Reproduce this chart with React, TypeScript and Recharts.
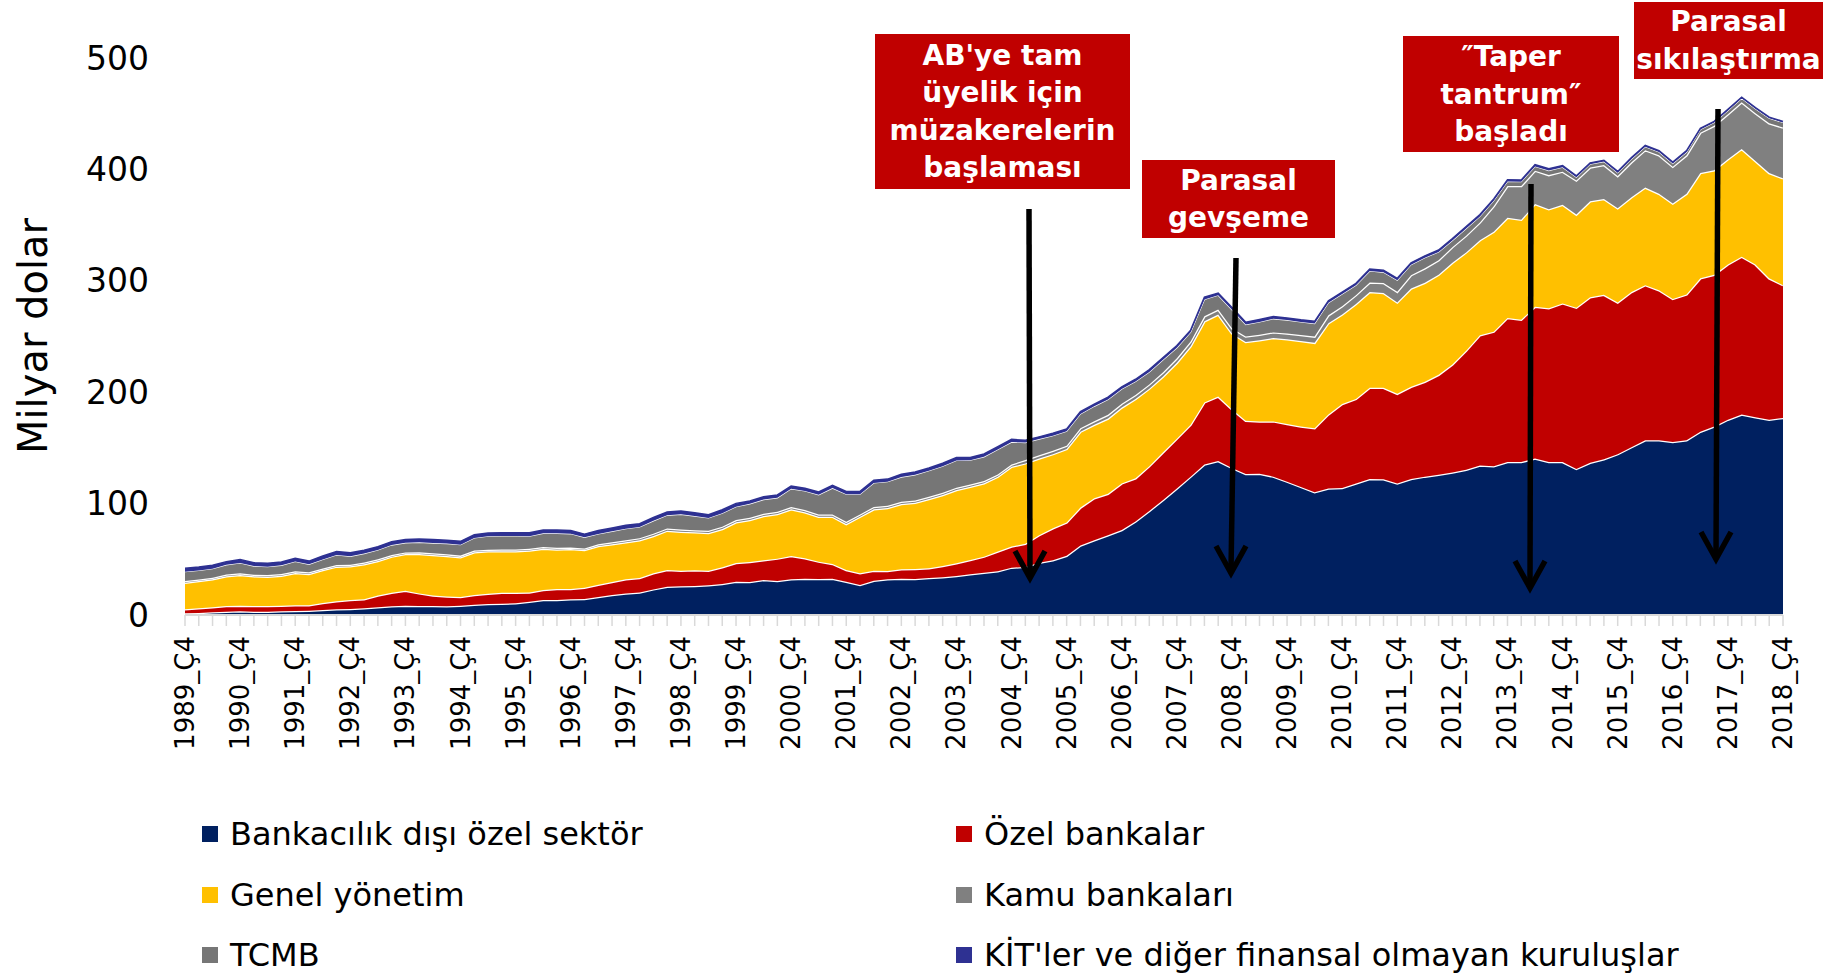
import React from 'react';
import { AreaChart, Area, XAxis, YAxis } from 'recharts';

// Quarter labels: 1989_Ç4 ... 2018_Ç4 (117 quarters)
const firstYear = 1989;
const quarterCount = 117;
const categories: string[] = [];
for (let i = 0; i < quarterCount; i++) {
  const year = firstYear + Math.floor((i + 3) / 4);
  const q = ((i + 3) % 4) + 1;
  categories.push(`${year}_Ç${q}`);
}

const yTicks = [0, 100, 200, 300, 400, 500];

// Bankacılık dışı özel sektör
const nonBankPrivate = [
  1.5, 1.8, 2.4, 3.0, 3.3, 3.0, 3.0, 3.3, 3.6, 3.9, 4.5, 5.1, 5.4, 6.0, 6.9, 7.8, 8.4, 8.1, 8.1, 7.8, 8.4, 9.3, 9.9, 10.2, 10.5, 11.8, 13.5,
  13.5, 14.1, 14.4, 16.2, 18.0, 19.4, 20.3, 23.0, 25.4, 25.7, 26.0, 26.6, 27.8, 29.9, 29.6, 31.4, 30.5, 32.0, 32.6, 32.3, 32.6, 29.9, 26.9, 30.8, 32.0, 32.6, 32.3, 33.2, 33.8, 35.0, 36.5, 38.0, 39.2, 42.5,
  43.2, 46.9, 49.1, 53.1, 62.4, 67.0, 71.6, 76.3, 84.0, 93.4, 103.2, 113.5, 124.2, 135.1, 138.2, 132.0, 126.5, 126.8, 124.2, 119.7, 115.0, 110.3, 113.5, 114.1, 118.1, 122.1, 121.8, 118.1, 122.1, 124.2, 125.9, 128.0, 130.4, 134.2, 133.6, 137.3, 137.3, 140.4, 137.3, 137.3, 131.1, 136.6, 139.8, 144.4, 150.6, 156.8, 156.8, 155.2, 156.8, 164.5, 169.1, 175.3, 180.0, 177.6, 175.3, 176.9,
];

// Özel bankalar
const privateBanks = [
  3.6, 4.2, 4.5, 5.1, 5.1, 5.1, 5.1, 5.1, 5.1, 4.8, 6.3, 7.2, 8.1, 8.1, 10.5, 12.2, 13.4, 11.3, 9.3, 8.7, 7.8, 8.7, 9.2, 9.8, 9.5, 8.5, 8.9,
  9.8, 9.2, 10.1, 11.0, 11.6, 12.6, 12.9, 14.4, 15.0, 14.1, 14.1, 13.2, 15.0, 16.8, 18.0, 17.7, 20.1, 21.0, 18.3, 15.6, 13.2, 10.5, 10.5, 9.0, 7.5, 8.4, 9.0, 8.7, 10.2, 11.4, 12.9, 14.4, 17.7, 18.9,
  20.7, 24.7, 28.7, 30.0, 34.0, 37.8, 37.2, 41.8, 38.7, 40.2, 42.8, 44.8, 46.5, 55.7, 57.9, 52.6, 47.9, 47.0, 49.6, 51.7, 54.1, 57.3, 66.5, 75.2, 75.8, 81.8, 82.1, 80.5, 82.7, 85.2, 89.7, 96.9, 106.9, 117.0, 120.7, 129.4, 127.8, 136.2, 138.0, 142.4, 144.8, 148.7, 147.6, 136.2, 139.3, 139.3, 134.7, 128.5, 130.9, 137.7, 136.3, 139.3, 141.7, 137.0, 126.9, 119.2,
];

// Genel yönetim
const generalGov = [
  23.9, 24.5, 25.1, 26.6, 27.5, 26.6, 26.3, 26.9, 29.0, 28.1, 29.6, 31.1, 30.2, 31.4, 31.1, 32.4, 33.0, 35.4, 36.5, 36.5, 35.6, 38.3, 38.1, 37.2, 37.2, 37.5, 37.1,
  35.6, 35.9, 33.8, 34.7, 33.8, 33.2, 33.8, 33.5, 35.3, 35.0, 34.1, 33.8, 34.4, 36.5, 37.7, 39.8, 40.1, 41.9, 41.3, 40.4, 42.5, 41.3, 50.9, 55.1, 56.6, 58.6, 59.5, 62.2, 63.7, 65.8, 65.8, 65.8, 67.3, 71.7,
  72.2, 68.8, 66.6, 65.9, 68.1, 65.9, 67.5, 68.1, 71.2, 69.6, 68.0, 68.1, 70.6, 72.8, 73.6, 68.2, 70.6, 72.8, 74.9, 76.1, 76.9, 76.7, 82.0, 80.4, 85.2, 86.0, 85.1, 82.0, 88.2, 88.8, 89.8, 91.3, 88.2, 85.2, 89.8, 89.8, 89.7, 92.3, 88.9, 88.5, 83.6, 86.0, 86.0, 84.5, 85.1, 87.6, 86.6, 85.8, 90.4, 94.5, 93.8, 94.5, 96.6, 92.9, 94.5, 95.9,
];

// Kamu bankaları
const publicBanks = [
  1.5, 1.4, 1.5, 1.6, 1.5, 1.4, 1.5, 1.5, 1.6, 1.5, 1.4, 1.5, 1.5, 1.6, 1.5, 1.5, 1.4, 1.5, 1.5, 1.6, 1.5, 1.5, 1.4, 1.5, 1.5, 1.6, 1.5,
  1.5, 1.4, 1.5, 1.6, 2.0, 1.9, 2.0, 2.1, 2.0, 2.0, 1.9, 2.0, 2.1, 2.0, 2.0, 1.9, 2.0, 2.0, 2.1, 2.0, 2.0, 1.9, 2.0, 2.1, 2.0, 2.0, 1.9, 2.0, 2.0, 2.1, 2.0, 2.0, 2.0, 2.0,
  3.0, 3.0, 3.0, 3.0, 3.2, 3.2, 3.4, 3.5, 3.6, 3.8, 3.9, 4.0, 4.2, 4.5, 4.5, 4.5, 5.0, 5.0, 5.0, 5.2, 5.4, 5.6, 7.0, 7.5, 8.0, 8.5, 9.0, 9.5, 12.0, 13.0, 13.0, 14.0, 15.0, 16.0, 22.8, 28.5, 30.2, 30.0, 30.7, 29.8, 30.5, 30.4, 30.6, 28.9, 31.4, 33.6, 34.5, 32.9, 34.5, 36.2, 39.9, 40.3, 42.0, 43.0, 44.7, 45.6,
];

// TCMB
const centralBank = [
  8.4, 8.1, 8.1, 8.7, 9.3, 7.8, 7.5, 7.8, 8.7, 7.2, 8.1, 9.0, 7.5, 8.0, 8.4, 8.9, 8.6, 8.9, 9.2, 9.5, 9.8, 11.3, 12.2, 12.2, 12.2, 11.3, 12.3,
  12.9, 12.3, 9.9, 9.3, 9.7, 10.3, 10.0, 11.5, 11.8, 13.6, 12.7, 11.5, 12.1, 12.0, 12.5, 12.8, 12.5, 16.4, 17.0, 17.6, 23.6, 24.8, 18.2, 21.5, 21.5, 22.2, 23.1, 23.4, 23.9, 24.5, 21.8, 21.8, 22.4, 20.1,
  15.7, 14.5, 13.6, 13.0, 12.8, 13.4, 13.8, 13.1, 12.1, 11.2, 11.2, 9.5, 8.3, 15.2, 12.8, 16.7, 10.7, 11.5, 12.2, 12.0, 11.7, 11.7, 11.3, 10.9, 8.8, 10.4, 9.6, 10.3, 9.5, 9.5, 7.5, 6.0, 6.5, 5.4, 5.0, 4.2, 4.0, 3.8, 4.1, 3.9, 3.0, 3.0, 3.0, 3.0, 3.0, 3.0, 3.0, 3.0, 3.0, 3.0, 3.0, 3.5, 3.5, 4.0, 4.5, 4.5,
];

// KİT'ler ve diğer finansal olmayan kuruluşlar
const stateEnterprises = [
  3.0, 3.1, 3.0, 2.9, 3.0, 3.0, 3.1, 3.0, 3.0, 2.9, 3.0, 3.0, 3.1, 3.0, 3.0, 2.9, 3.0, 3.0, 3.1, 3.0, 3.0, 3.0, 2.9, 3.0, 3.0, 3.1, 3.0,
  3.0, 3.0, 2.9, 3.0, 3.0, 3.1, 3.0, 3.0, 3.0, 2.9, 3.0, 3.0, 3.1, 3.0, 2.5, 2.5, 2.6, 2.5, 2.4, 2.5, 2.5, 2.5, 2.6, 2.5, 2.4, 2.5, 2.5, 2.5, 2.6, 2.5, 2.4, 2.5, 2.5, 2.5,
  2.0, 2.0, 2.1, 2.0, 2.0, 1.9, 2.0, 2.0, 2.0, 2.1, 2.0, 2.0, 1.9, 2.0, 2.0, 2.0, 2.0, 2.1, 2.0, 2.0, 1.9, 2.0, 1.8, 1.8, 1.8, 1.8, 1.8, 1.8, 1.7, 1.7, 1.7, 1.7, 1.7, 1.7, 1.5, 1.5, 1.5, 1.5, 1.5, 1.5, 1.2, 1.2, 1.2, 1.2, 1.2, 1.2, 1.2, 1.2, 1.2, 1.0, 1.0, 1.0, 1.0, 1.0, 1.0, 1.0,
];

const data = categories.map((q, i) => ({
  q,
  nonBankPrivate: nonBankPrivate[i],
  privateBanks: privateBanks[i],
  generalGov: generalGov[i],
  publicBanks: publicBanks[i],
  centralBank: centralBank[i],
  stateEnterprises: stateEnterprises[i],
}));

const COLORS = {
  navy: '#002060',
  red: '#C00000',
  yellow: '#FFC000',
  kamu: '#808080',
  tcmb: '#767676',
  kit: '#2E3192',
};

const FONT = "'DejaVu Sans', Verdana, sans-serif";

const XTick = (props: any) => {
  const { x, y, payload } = props;
  const idx = props.index ?? payload?.index ?? 0;
  if (idx % 4 !== 0) return <g />;
  return (
    <text
      x={x}
      y={y}
      transform={`rotate(-90, ${x}, ${y})`}
      textAnchor="end"
      dominantBaseline="central"
      fontSize={26}
      fontFamily={FONT}
      fill="#000"
    >
      {payload.value}
    </text>
  );
};

const YTick = (props: any) => {
  const { x, y, payload } = props;
  return (
    <text x={x} y={y} textAnchor="end" dominantBaseline="central" fontSize={33} fontFamily={FONT} fill="#000">
      {payload.value}
    </text>
  );
};

const legendItems = [
  { label: 'Bankacılık dışı özel sektör', color: COLORS.navy, col: 0, row: 0 },
  { label: 'Özel bankalar', color: COLORS.red, col: 1, row: 0 },
  { label: 'Genel yönetim', color: COLORS.yellow, col: 0, row: 1 },
  { label: 'Kamu bankaları', color: COLORS.kamu, col: 1, row: 1 },
  { label: 'TCMB', color: COLORS.tcmb, col: 0, row: 2 },
  { label: "KİT'ler ve diğer finansal olmayan kuruluşlar", color: COLORS.kit, col: 1, row: 2 },
];
const legendColX = [202, 956];
const legendRowY = [834, 895, 955];

const notes = [
  { lines: ["AB'ye tam", 'üyelik için', 'müzakerelerin', 'başlaması'], x: 875, y: 34, w: 255, h: 155 },
  { lines: ['Parasal', 'gevşeme'], x: 1142, y: 160, w: 193, h: 78 },
  { lines: ['″Taper', 'tantrum″', 'başladı'], x: 1403, y: 36, w: 216, h: 116 },
  { lines: ['Parasal', 'sıkılaştırma'], x: 1634, y: 2, w: 189, h: 77 },
];

const arrows = [
  { x1: 1029, y1: 209, x2: 1030, y2: 578 },
  { x1: 1236, y1: 258, x2: 1231, y2: 573 },
  { x1: 1531, y1: 184, x2: 1530, y2: 588 },
  { x1: 1718, y1: 109, x2: 1716, y2: 559 },
];

export default function App() {
  return (
    <div style={{ position: 'absolute', left: 0, top: 0, width: 1830, height: 977, background: '#fff' }}>
      <AreaChart
        width={1830}
        height={977}
        data={data}
        margin={{ top: 58, right: 47, left: 0, bottom: 212 }}
      >
        <XAxis
          dataKey="q"
          scale="point"
          interval={0}
          height={150}
          tick={<XTick />}
          tickLine={{ stroke: '#D9D9D9', strokeWidth: 1.5 }}
          tickSize={11}
          tickMargin={10}
          axisLine={{ stroke: '#D9D9D9', strokeWidth: 2 }}
          padding={{ left: 0, right: 0 }}
        />
        <YAxis
          domain={[0, 500]}
          ticks={yTicks}
          width={185}
          axisLine={false}
          tickLine={false}
          tickSize={0}
          tickMargin={36}
          tick={<YTick />}
        />
        <Area type="linear" dataKey="nonBankPrivate" stackId="1" fill={COLORS.navy} fillOpacity={1} stroke="#fff" strokeWidth={2.5} isAnimationActive={false} dot={false} activeDot={false} />
        <Area type="linear" dataKey="privateBanks" stackId="1" fill={COLORS.red} fillOpacity={1} stroke="#fff" strokeWidth={2.5} isAnimationActive={false} dot={false} activeDot={false} />
        <Area type="linear" dataKey="generalGov" stackId="1" fill={COLORS.yellow} fillOpacity={1} stroke="#fff" strokeWidth={2.5} isAnimationActive={false} dot={false} activeDot={false} />
        <Area type="linear" dataKey="publicBanks" stackId="1" fill={COLORS.kamu} fillOpacity={1} stroke="#fff" strokeWidth={2.5} isAnimationActive={false} dot={false} activeDot={false} />
        <Area type="linear" dataKey="centralBank" stackId="1" fill={COLORS.tcmb} fillOpacity={1} stroke="#fff" strokeWidth={1.2} isAnimationActive={false} dot={false} activeDot={false} />
        <Area type="linear" dataKey="stateEnterprises" stackId="1" fill={COLORS.kit} fillOpacity={1} stroke={COLORS.kit} strokeWidth={1.5} isAnimationActive={false} dot={false} activeDot={false} />
      </AreaChart>

      <svg
        width={1830}
        height={977}
        style={{ position: 'absolute', left: 0, top: 0, pointerEvents: 'none' }}
        fontFamily={FONT}
      >
        <text
          x={33}
          y={336}
          transform="rotate(-90, 33, 336)"
          textAnchor="middle"
          dominantBaseline="central"
          fontSize={40}
          fill="#000"
        >
          Milyar dolar
        </text>

        {notes.map((n, i) => (
          <g key={i}>
            <rect x={n.x} y={n.y} width={n.w} height={n.h} fill="#C00000" />
            {n.lines.map((line, j) => {
              const lh = 37.5;
              const startY = n.y + n.h / 2 - ((n.lines.length - 1) * lh) / 2;
              return (
                <text
                  key={j}
                  x={n.x + n.w / 2}
                  y={startY + j * lh}
                  textAnchor="middle"
                  dominantBaseline="central"
                  fontSize={28}
                  fontWeight="bold"
                  fill="#fff"
                >
                  {line}
                </text>
              );
            })}
          </g>
        ))}

        {arrows.map((a, i) => (
          <g key={i} stroke="#000" strokeWidth={5.5} fill="none">
            <line x1={a.x1} y1={a.y1} x2={a.x2} y2={a.y2 - 3} />
            <polyline points={`${a.x2 - 15},${a.y2 - 27} ${a.x2},${a.y2} ${a.x2 + 15},${a.y2 - 27}`} strokeLinejoin="miter" />
          </g>
        ))}

        {legendItems.map((it, i) => (
          <g key={i}>
            <rect x={legendColX[it.col]} y={legendRowY[it.row] - 8} width={16} height={16} fill={it.color} />
            <text
              x={legendColX[it.col] + 28}
              y={legendRowY[it.row]}
              dominantBaseline="central"
              fontSize={32}
              fill="#000"
            >
              {it.label}
            </text>
          </g>
        ))}
      </svg>
    </div>
  );
}
